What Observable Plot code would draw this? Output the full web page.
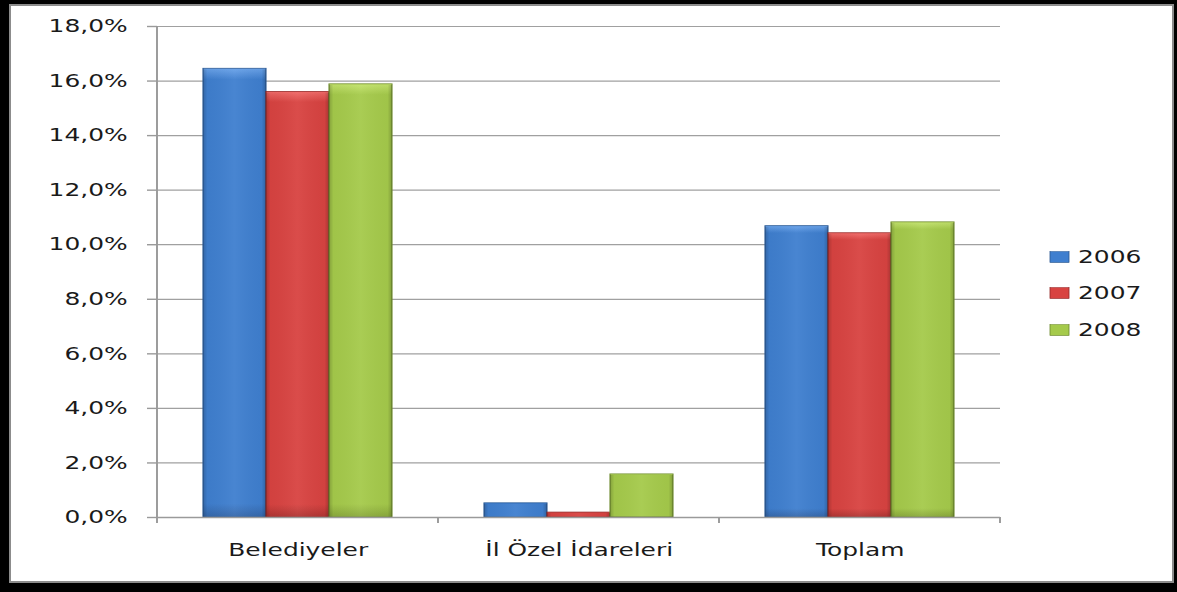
<!DOCTYPE html>
<html>
<head>
<meta charset="utf-8">
<script src="https://cdn.jsdelivr.net/npm/d3@7"></script>
<script src="https://cdn.jsdelivr.net/npm/@observablehq/plot@0.6"></script>
<style>
  html, body { margin: 0; padding: 0; background: #000; width: 1177px; height: 592px; overflow: hidden; }
  #panel { position: absolute; left: 9px; top: 4px; width: 1165px; height: 579px; box-sizing: border-box;
           background: #fff; border: 2px solid #8c8c8c; }
  #chart { position: absolute; left: 0; top: 0; width: 1177px; height: 592px; }
</style>
</head>
<body>
<div id="panel"></div>
<div id="chart"></div>
<script>
// ---- data ----
const categories = ["Belediyeler", "İl Özel İdareleri", "Toplam"];
const years = ["2006", "2007", "2008"];
const values2006 = [16.45, 0.52, 10.68];
const values2007 = [15.6, 0.18, 10.42];
const values2008 = [15.88, 1.58, 10.82];
const yTicks = [0, 2, 4, 6, 8, 10, 12, 14, 16, 18];

const seriesValues = {"2006": values2006, "2007": values2007, "2008": values2008};
const data = years.flatMap(yr => categories.map((c, i) => ({cat: c, year: yr, value: seriesValues[yr][i]})));

// ---- layout (image is horizontally stretched: draw in narrower viewBox and stretch) ----
const PAGE_W = 1177, PAGE_H = 592;
const W = 850;
const S = PAGE_W / W;
const fmt = d => d.toFixed(1).replace(".", ",") + "%";

const colors = {
  "2006": ["#6aa3ea", "#3f7fcf", "#3668ab"],
  "2007": ["#f06a68", "#d84341", "#b03533"],
  "2008": ["#c4e46e", "#a5ca4b", "#8aa93c"]
};
const strokes = {"2006": "#2c5a94", "2007": "#962b2a", "2008": "#6e8a2e"};

const plot = Plot.plot({
  width: W,
  height: PAGE_H,
  marginLeft: 157 / S,
  marginRight: (PAGE_W - 1000) / S,
  marginTop: 26,
  marginBottom: PAGE_H - 517,
  style: {fontFamily: "DejaVu Sans, Verdana, sans-serif", fontSize: "18px", color: "#1a1a1a", background: "transparent", overflow: "visible"},
  fx: {domain: categories, padding: 0, round: false, label: null, tickSize: 0, tickPadding: 26},
  x: {domain: years, paddingInner: 0, paddingOuter: 0.73, round: false, axis: null},
  y: {domain: [0, 18], ticks: yTicks, tickFormat: fmt, tickSize: 10 / S, tickPadding: 20 / S, label: null},
  marks: [
    Plot.ruleY(yTicks.filter(d => d > 0), {stroke: "#a0a0a0", strokeWidth: 1.2}),
    ...years.map(yr => Plot.barY(data.filter(d => d.year === yr), {
      fx: "cat", x: "year", y: "value",
      fill: `url(#grad${yr})`, stroke: strokes[yr], strokeWidth: 0.8
    })),
    ...years.map(yr => Plot.barY(data.filter(d => d.year === yr), {
      fx: "cat", x: "year", y: "value",
      fill: "url(#shine)", insetTop: 1
    })),
    Plot.ruleY([0], {stroke: "#9a9a9a", strokeWidth: 1.4})
  ]
});

const svg = d3.select(plot);
svg.attr("width", PAGE_W).attr("height", PAGE_H).attr("preserveAspectRatio", "none")
   .style("width", PAGE_W + "px").style("height", PAGE_H + "px").style("max-width", "none");

// gradients
const defs = svg.insert("defs", ":first-child");
years.forEach(yr => {
  const g = defs.append("linearGradient").attr("id", "grad" + yr)
    .attr("x1", 0).attr("y1", 0).attr("x2", 0).attr("y2", 1);
  g.append("stop").attr("offset", "0").attr("stop-color", colors[yr][0]);
  g.append("stop").attr("offset", "0.025").attr("stop-color", colors[yr][1]);
  g.append("stop").attr("offset", "0.97").attr("stop-color", colors[yr][1]);
  g.append("stop").attr("offset", "1").attr("stop-color", colors[yr][2]);
});
const sh = defs.append("linearGradient").attr("id", "shine").attr("x1", 0).attr("y1", 0).attr("x2", 1).attr("y2", 0);
sh.append("stop").attr("offset", "0").attr("stop-color", "#000").attr("stop-opacity", 0.2);
sh.append("stop").attr("offset", "0.07").attr("stop-color", "#000").attr("stop-opacity", 0.03);
sh.append("stop").attr("offset", "0.5").attr("stop-color", "#fff").attr("stop-opacity", 0.05);
sh.append("stop").attr("offset", "0.93").attr("stop-color", "#000").attr("stop-opacity", 0.03);
sh.append("stop").attr("offset", "1").attr("stop-color", "#000").attr("stop-opacity", 0.22);

// axis tick lines gray
svg.selectAll("[aria-label='y-axis tick'] path, [aria-label='y-axis'] path, [aria-label='y-axis tick'] line")
   .attr("stroke", "#9a9a9a").attr("stroke-width", 1.4);

// frame lines: y axis line and group boundary ticks using library scales
const fx = plot.scale("fx");
const yS = plot.scale("y");
const y0 = yS.apply(0), yTop = yS.apply(18);
const left = fx.apply(categories[0]);
const bw = fx.bandwidth;
const deco = svg.append("g").attr("stroke", "#9a9a9a").attr("stroke-width", 1.4);
deco.append("line").attr("x1", left).attr("x2", left).attr("y1", yTop).attr("y2", y0 + 6);
categories.forEach(c => {
  const xr = fx.apply(c) + bw;
  deco.append("line").attr("x1", xr).attr("x2", xr).attr("y1", y0).attr("y2", y0 + 6);
});

// legend
const lg = svg.append("g").attr("font-family", "DejaVu Sans, Verdana, sans-serif").attr("font-size", 18)
  .attr("fill", "#1a1a1a").attr("text-anchor", "start");
const legendY = [257, 293, 330];
years.forEach((yr, i) => {
  lg.append("rect").attr("x", 1050 / S).attr("y", legendY[i] - 5.5).attr("width", 19 / S).attr("height", 11)
    .attr("fill", `url(#grad${yr})`).attr("stroke", strokes[yr]).attr("stroke-width", 0.6);
  lg.append("text").attr("x", 1078 / S).attr("y", legendY[i]).attr("dy", "0.36em").text(yr);
});

document.getElementById("chart").appendChild(plot);
</script>
</body>
</html>
